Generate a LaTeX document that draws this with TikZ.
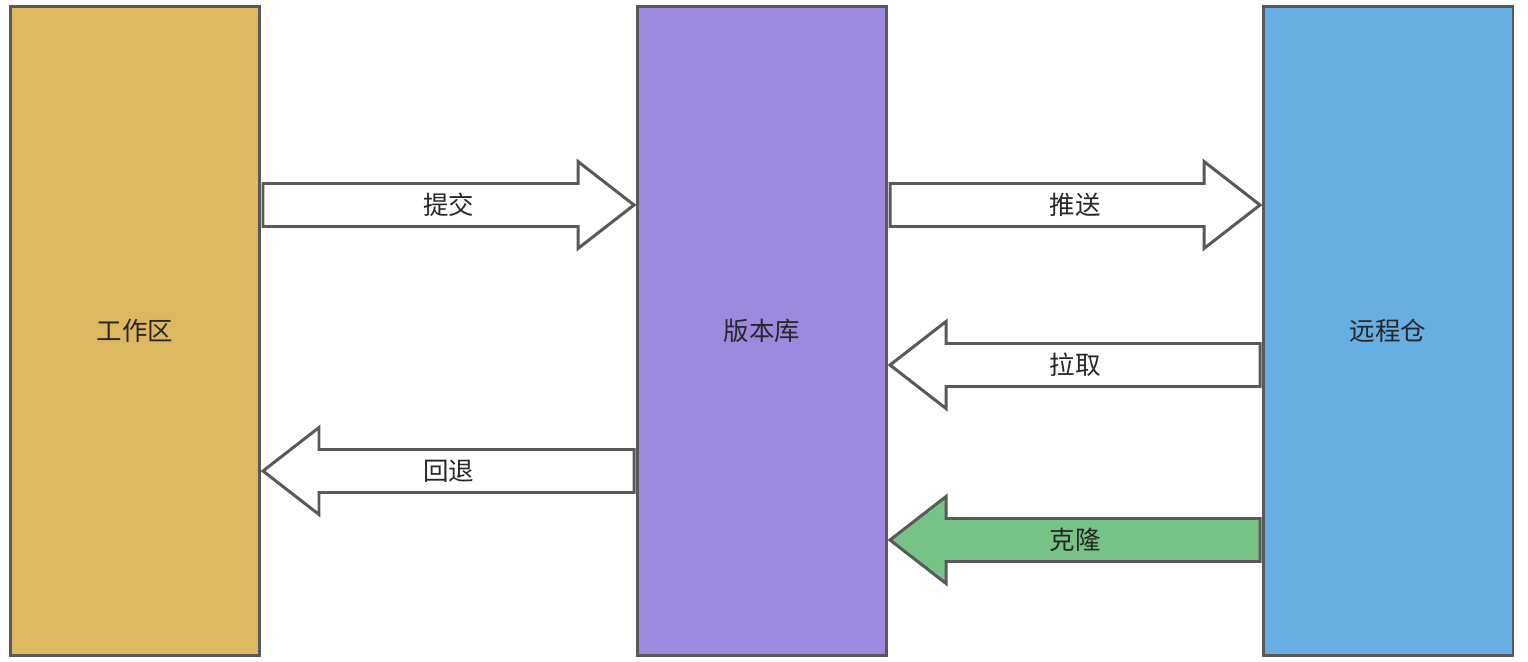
\documentclass[tikz,border=0pt]{standalone}
\usepackage{fontspec}
\setmainfont{Noto Sans CJK SC}
\usetikzlibrary{positioning}
\definecolor{edgegray}{HTML}{595959}
\definecolor{gold}{HTML}{DEB85E}
\definecolor{lilac}{HTML}{A088E0}
\definecolor{skyblue}{HTML}{67AEE3}
\definecolor{leaf}{HTML}{77C386}
\tikzset{
    every node/.style={font=\fontsize{14.5}{16}\selectfont, text=black!85},
    area/.style={draw=edgegray, line width=1.7pt, minimum width=5cm, minimum height=13cm}, % the three big boxes
    fat/.style={draw=edgegray, line width=1.7pt, line join=miter},
}
% #1 start x, #2 tip x, #3 centre y, #4 head base x, #5 fill, #6 name, #7 label
\newcommand{\fatarrow}[7]{
    \draw[fat, fill=#5] (#1,#3-21.5) -- (#4,#3-21.5) -- (#4,#3-43.5) -- (#2,#3)
        -- (#4,#3+43.5) -- (#4,#3+21.5) -- (#1,#3+21.5) -- cycle;
    \node (#6) at ({(#1+#2)/2},#3) {#7};
}
\begin{document}
\begin{tikzpicture}[x=0.02cm, y=-0.02cm]
    \useasboundingbox (0,0) rectangle (1528,662);
    \node[area, fill=gold] (work) at (135,331) {工作区};
    \node[area, fill=lilac] (repo) at (762,331) {版本库};
    \node[area, fill=skyblue] (remote) at (1388,331) {远程仓};
    \fatarrow{263}{634}{205}{578}{white}{commit}{提交}
    \fatarrow{890}{1260}{205}{1204}{white}{push}{推送}
    \fatarrow{1260}{890}{365}{946}{white}{pull}{拉取}
    \fatarrow{634}{263}{471}{319}{white}{reset}{回退}
    \fatarrow{1260}{890}{540}{946}{leaf}{clone}{克隆}
\end{tikzpicture}
\end{document}
